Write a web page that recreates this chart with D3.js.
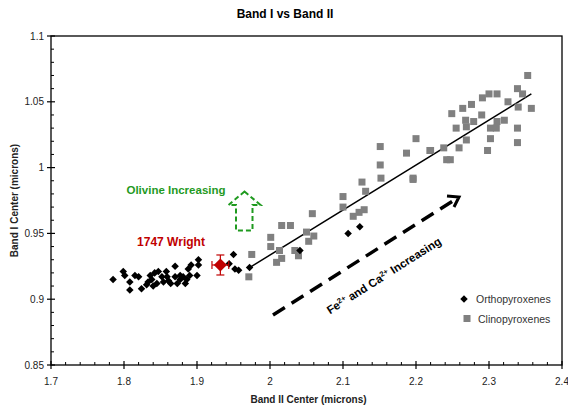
<!DOCTYPE html>
<html><head><meta charset="utf-8">
<script src="https://cdn.jsdelivr.net/npm/d3@7"></script>
<style>body{margin:0;background:#fff;} svg{display:block;font-family:"Liberation Sans",Arial,sans-serif;}</style>
</head><body>
<script>
// ---- data ----
const orthoX = [1.785,1.799,1.801,1.808,1.808,1.815,1.820,1.824,1.831,1.833,1.836,1.838,1.840,1.842,1.845,1.847,1.852,1.854,1.858,1.859,1.861,1.864,1.870,1.870,1.873,1.877,1.877,1.881,1.884,1.886,1.888,1.890,1.892,1.900,1.902,1.902,1.944,1.950,1.952,1.957,1.972,2.041,2.107,2.123];
const orthoY = [0.915,0.921,0.918,0.913,0.907,0.918,0.917,0.908,0.911,0.913,0.918,0.915,0.910,0.920,0.912,0.921,0.917,0.913,0.921,0.917,0.914,0.912,0.925,0.917,0.912,0.918,0.915,0.917,0.912,0.915,0.923,0.918,0.926,0.918,0.930,0.926,0.927,0.934,0.923,0.922,0.924,0.937,0.950,0.955];
const clinoX = [1.971,1.975,2.001,2.001,2.009,2.013,2.016,2.016,2.028,2.034,2.039,2.050,2.053,2.058,2.060,2.100,2.100,2.114,2.122,2.126,2.129,2.131,2.151,2.151,2.152,2.187,2.196,2.196,2.200,2.219,2.220,2.238,2.242,2.247,2.249,2.255,2.259,2.264,2.268,2.269,2.269,2.276,2.279,2.290,2.291,2.298,2.300,2.302,2.302,2.310,2.311,2.311,2.321,2.326,2.339,2.339,2.339,2.340,2.346,2.353,2.358];
const clinoY = [0.917,0.934,0.947,0.940,0.928,0.937,0.956,0.931,0.956,0.937,0.933,0.951,0.944,0.965,0.948,0.978,0.970,0.963,0.966,0.989,0.968,0.982,1.016,1.002,0.992,1.011,0.991,0.992,1.022,1.013,1.013,1.015,1.006,1.006,1.041,1.030,1.015,1.045,1.036,1.031,1.021,1.048,1.035,1.040,1.053,1.013,1.056,1.030,1.022,1.030,1.056,1.035,1.036,1.050,1.060,1.030,1.019,1.046,1.056,1.070,1.045];
const wright = {x:1.932, y:0.926, ex:0.0115, ey:0.0076, label:"1747 Wright"};
const trendX = [1.972, 2.358];
const trendY = [0.924, 1.056];
const xTicks = [1.7,1.8,1.9,2.0,2.1,2.2,2.3,2.4];
const xTickLabels = ["1.7","1.8","1.9","2","2.1","2.2","2.3","2.4"];
const yTicks = [0.85,0.9,0.95,1.0,1.05,1.1];
const yTickLabels = ["0.85","0.9","0.95","1","1.05","1.1"];
const seriesNames = ["Orthopyroxenes","Clinopyroxenes"];
const title = "Band I vs Band II";
const xLabel = "Band II Center (microns)";
const yLabel = "Band I Center (microns)";

// ---- layout ----
const W=568,H=408;
const L=51,R=562,T=36,B=365;
const x = d3.scaleLinear().domain([1.7,2.4]).range([L,R]);
const y = d3.scaleLinear().domain([0.85,1.1]).range([B,T]);

const svg = d3.select("body").append("svg").attr("width",W).attr("height",H);

svg.append("text").attr("x",285).attr("y",18).attr("text-anchor","middle")
  .attr("font-size",12).attr("font-weight","bold").text(title);

// frame
svg.append("rect").attr("x",L).attr("y",T).attr("width",R-L).attr("height",B-T)
  .attr("fill","none").attr("stroke","#000").attr("stroke-width",1.3);

// x ticks
const xMinor = d3.range(1.72,2.4,0.02).filter(v=>Math.abs(Math.round(v*10)-v*10)>0.01);
svg.selectAll(".xmin").data(xMinor).enter().append("line")
  .attr("x1",d=>x(d)).attr("x2",d=>x(d)).attr("y1",B).attr("y2",B-3).attr("stroke","#000");
svg.selectAll(".xmaj").data(xTicks).enter().append("line")
  .attr("x1",d=>x(d)).attr("x2",d=>x(d)).attr("y1",B-4).attr("y2",B+4).attr("stroke","#000").attr("stroke-width",1.2);
svg.selectAll(".xl").data(xTicks).enter().append("text")
  .attr("x",d=>x(d)).attr("y",B+20).attr("text-anchor","middle").attr("font-size",10).attr("fill","#222")
  .text((d,i)=>xTickLabels[i]);

// y ticks
const yMinor = d3.range(0.86,1.1,0.01).filter(v=>Math.abs(Math.round(v*20)-v*20)>0.01);
svg.selectAll(".ymin").data(yMinor).enter().append("line")
  .attr("y1",d=>y(d)).attr("y2",d=>y(d)).attr("x1",L).attr("x2",L+3).attr("stroke","#000");
svg.selectAll(".ymaj").data(yTicks).enter().append("line")
  .attr("y1",d=>y(d)).attr("y2",d=>y(d)).attr("x1",L-4).attr("x2",L+4).attr("stroke","#000").attr("stroke-width",1.2);
svg.selectAll(".yl").data(yTicks).enter().append("text")
  .attr("x",L-7).attr("y",d=>y(d)+3.5).attr("text-anchor","end").attr("font-size",10).attr("fill","#222")
  .text((d,i)=>yTickLabels[i]);

// axis labels
svg.append("text").attr("x",(L+R)/2+2).attr("y",403).attr("text-anchor","middle")
  .attr("font-size",10).attr("font-weight","bold").attr("fill","#222").text(xLabel);
svg.append("text").attr("transform",`translate(18,${(T+B)/2}) rotate(-90)`).attr("text-anchor","middle")
  .attr("font-size",10).attr("font-weight","bold").attr("fill","#222").text(yLabel);

// trendline
svg.append("line").attr("x1",x(trendX[0])).attr("y1",y(trendY[0])).attr("x2",x(trendX[1])).attr("y2",y(trendY[1]))
  .attr("stroke","#000").attr("stroke-width",1.5);

// clino squares
const sq=7;
svg.selectAll(".cp").data(clinoX).enter().append("rect")
  .attr("x",(d)=>x(d)-sq/2).attr("y",(d,i)=>y(clinoY[i])-sq/2).attr("width",sq).attr("height",sq)
  .attr("fill","#808080");

// ortho diamonds
const dia = d3.symbol().type(d3.symbolDiamond2).size(36);
svg.selectAll(".op").data(orthoX).enter().append("path")
  .attr("d",dia).attr("transform",(d,i)=>`translate(${x(d)},${y(orthoY[i])})`).attr("fill","#000");

// Wright point
const red="#c00000";
const wg = svg.append("g").attr("stroke",red).attr("stroke-width",1.2);
wg.append("line").attr("x1",x(wright.x-wright.ex)).attr("x2",x(wright.x+wright.ex)).attr("y1",y(wright.y)).attr("y2",y(wright.y));
wg.append("line").attr("y1",y(wright.y-wright.ey)).attr("y2",y(wright.y+wright.ey)).attr("x1",x(wright.x)).attr("x2",x(wright.x));
[-1,1].forEach(s=>{
  wg.append("line").attr("x1",x(wright.x+s*wright.ex)).attr("x2",x(wright.x+s*wright.ex)).attr("y1",y(wright.y)-4).attr("y2",y(wright.y)+4);
  wg.append("line").attr("y1",y(wright.y+s*wright.ey)).attr("y2",y(wright.y+s*wright.ey)).attr("x1",x(wright.x)-4).attr("x2",x(wright.x)+4);
});
svg.append("path").attr("d",d3.symbol().type(d3.symbolDiamond2).size(110))
  .attr("transform",`translate(${x(wright.x)},${y(wright.y)})`).attr("fill",red);
svg.append("text").attr("x",171).attr("y",246).attr("text-anchor","middle").attr("font-size",12)
  .attr("font-weight","bold").attr("fill",red).text(wright.label);

// Olivine annotation
const green="#1f9a1f";
svg.append("text").attr("x",176).attr("y",194).attr("text-anchor","middle").attr("font-size",11.5)
  .attr("font-weight","bold").attr("fill",green).text("Olivine Increasing");
const ax=[244.5,260.5,252.5,252.5,236,236,228.5], ay=[191.5,205,205,230.5,230.5,205,205];
svg.append("path").attr("d",d3.line()(ax.map((v,i)=>[v,ay[i]]))+"Z")
  .attr("fill","none").attr("stroke",green).attr("stroke-width",2).attr("stroke-dasharray","5,3");

// Fe/Ca arrow
const a0=[273,315], a1=[459,197];
svg.append("line").attr("x1",a0[0]).attr("y1",a0[1]).attr("x2",a1[0]-3).attr("y2",a1[1]+2)
  .attr("stroke","#000").attr("stroke-width",3.5).attr("stroke-dasharray","14,8");
svg.append("path").attr("d",`M${a1[0]-12},${a1[1]-1}L${a1[0]},${a1[1]}L${a1[0]-5},${a1[1]+10}`)
  .attr("fill","none").attr("stroke","#000").attr("stroke-width",3);
const ang = Math.atan2(a1[1]-a0[1],a1[0]-a0[0])*180/Math.PI;
const ft = svg.append("text").attr("transform",`translate(386,279) rotate(${ang})`).attr("text-anchor","middle")
  .attr("font-size",11.5).attr("font-weight","bold").attr("fill","#000");
ft.append("tspan").text("Fe");
ft.append("tspan").attr("font-size",7.5).attr("dy",-4).text("2+");
ft.append("tspan").attr("dy",4).text(" and Ca");
ft.append("tspan").attr("font-size",7.5).attr("dy",-4).text("2+");
ft.append("tspan").attr("dy",4).text(" Increasing");

// legend
svg.append("path").attr("d",d3.symbol().type(d3.symbolDiamond2).size(36)).attr("transform","translate(464,299)").attr("fill","#000");
svg.append("text").attr("x",476).attr("y",302.5).attr("font-size",10.5).attr("fill","#333").text(seriesNames[0]);
svg.append("rect").attr("x",463.5).attr("y",315).attr("width",7).attr("height",7).attr("fill","#808080");
svg.append("text").attr("x",478).attr("y",322.5).attr("font-size",10.5).attr("fill","#333").text(seriesNames[1]);
</script>
</body></html>
